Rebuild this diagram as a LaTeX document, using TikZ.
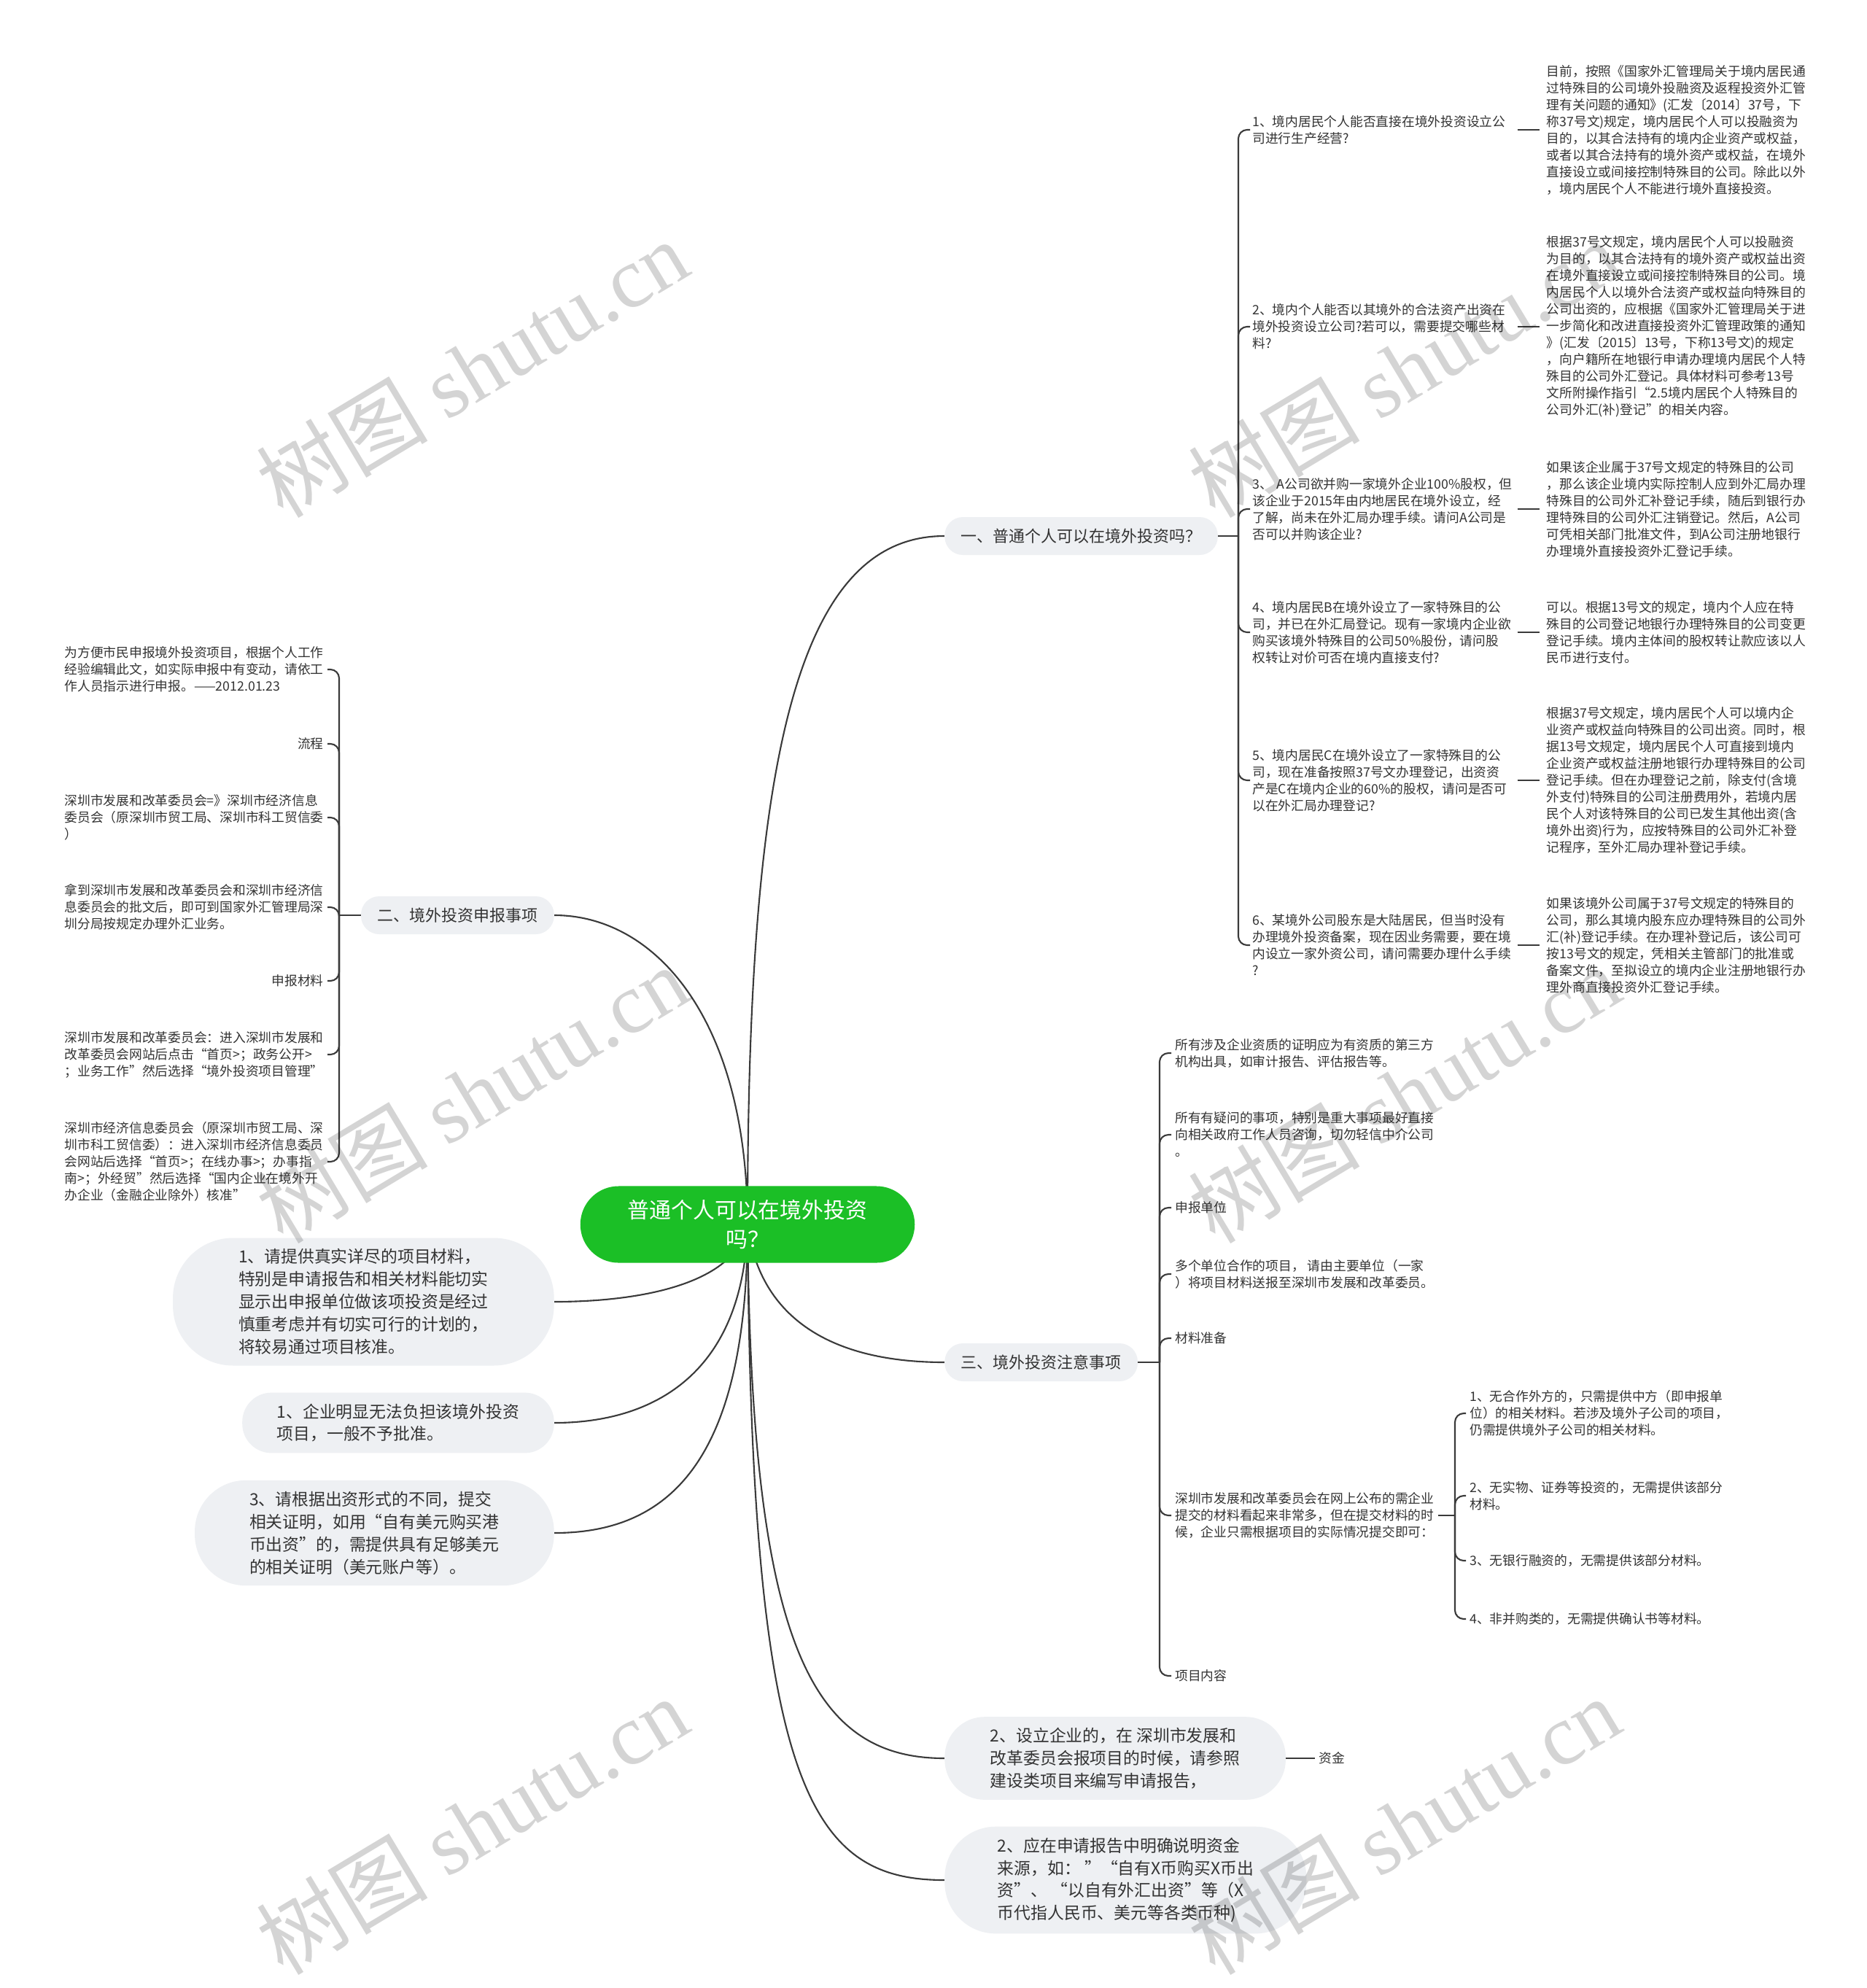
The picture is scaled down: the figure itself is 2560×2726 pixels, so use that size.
\documentclass[tikz,border=0pt]{standalone}
\usepackage{fontspec}
\setmainfont{Noto Sans CJK SC}
\newfontfamily\wmfont{Liberation Serif}
\usetikzlibrary{positioning, backgrounds}
\definecolor{MapText}{HTML}{333333}
\definecolor{MapLine}{HTML}{3A3A3A}
\definecolor{MapGray}{HTML}{EEF0F3}
\definecolor{MapGreen}{HTML}{1BBF26}

\begin{document}
\begin{tikzpicture}[x=0.02cm, y=-0.02cm,
                rootbox/.style={fill=MapGreen, text=white, rounded corners=1.05cm, inner xsep=1.3cm, inner ysep=0.38cm, align=center, font=\fontsize{17}{22.5}\selectfont},
                topicbox/.style={fill=MapGray, text=MapText, rounded corners=0.5cm, minimum height=1.04cm, inner xsep=0.45cm, font=\fontsize{12.5}{15}\selectfont},
                bubblebox/.style={fill=MapGray, text=MapText, align=left, inner ysep=0.3cm, font=\fontsize{13}{17.6}\selectfont},
                notebox/.style={text=MapText, align=left, inner xsep=0.1cm, inner ysep=0.06cm, font=\fontsize{10.1}{13.1}\selectfont},
                askbox/.style={notebox, text width=7.2cm, inner xsep=0.06cm},
                conn/.style={draw=MapLine, line width=1.2pt},
                bracelink/.style={conn, rounded corners=0.24cm},
                wmark/.style={text=black, text opacity=0.17, rotate=31, font=\fontsize{67}{67}\selectfont}]
    \useasboundingbox (0,0) rectangle (2560,2726);

    \node[rootbox] (root) at (1025,1679) {普通个人可以在境外投资\\吗？};

    \node[topicbox, anchor=west] (n1) at (1295,735) {一、普通个人可以在境外投资吗？};
    \node[topicbox, anchor=east] (n2) at (760,1255) {二、境外投资申报事项};
    \node[topicbox, anchor=west] (n3) at (1295,1868) {三、境外投资注意事项};

    \node[bubblebox, anchor=east, inner xsep=1.8cm, rounded corners=1.65cm] (b1) at (760,1785) {1、请提供真实详尽的项目材料，\\特别是申请报告和相关材料能切实\\显示出申报单位做该项投资是经过\\慎重考虑并有切实可行的计划的，\\将较易通过项目核准。};
    \node[bubblebox, anchor=east, inner xsep=0.95cm, rounded corners=0.8cm] (b2) at (760,1951) {1、企业明显无法负担该境外投资\\项目，一般不予批准。};
    \node[bubblebox, anchor=east, inner xsep=1.5cm, rounded corners=1.4cm] (b3) at (760,2102) {3、请根据出资形式的不同，提交\\相关证明，如用“自有美元购买港\\币出资”的，需提供具有足够美元\\的相关证明（美元账户等）。};
    \node[bubblebox, anchor=west, inner xsep=1.25cm, rounded corners=1.1cm] (bb1) at (1295,2411) {2、设立企业的，在 深圳市发展和\\改革委员会报项目的时候，请参照\\建设类项目来编写申请报告，};
    \node[bubblebox, anchor=west, inner xsep=1.45cm, rounded corners=1.4cm] (bb2) at (1295,2578) {2、应在申请报告中明确说明资金\\来源，如： ”“自有X币购买X币出\\资”、 “以自有外汇出资”等（X\\币代指人民币、美元等各类币种)};
    \node[notebox, right=0.8cm of bb1] (fund) {资金};

    \node[askbox, anchor=west] (q1) at (1714,178) {1、境内居民个人能否直接在境外投资设立公\\司进行生产经营?};
    \node[askbox, anchor=west] (q2) at (1714,448) {2、境内个人能否以其境外的合法资产出资在\\境外投资设立公司?若可以，需要提交哪些材\\料?};
    \node[askbox, anchor=west] (q3) at (1714,698) {3、 A公司欲并购一家境外企业100\%股权，但\\该企业于2015年由内地居民在境外设立，经\\了解，尚未在外汇局办理手续。请问A公司是\\否可以并购该企业?};
    \node[askbox, anchor=west] (q4) at (1714,867) {4、境内居民B在境外设立了一家特殊目的公\\司，并已在外汇局登记。现有一家境内企业欲\\购买该境外特殊目的公司50\%股份，请问股\\权转让对价可否在境内直接支付?};
    \node[askbox, anchor=west] (q5) at (1714,1070) {5、境内居民C在境外设立了一家特殊目的公\\司，现在准备按照37号文办理登记，出资资\\产是C在境内企业的60\%的股权，请问是否可\\以在外汇局办理登记?};
    \node[askbox, anchor=west] (q6) at (1714,1296) {6、某境外公司股东是大陆居民，但当时没有\\办理境外投资备案，现在因业务需要，要在境\\内设立一家外资公司，请问需要办理什么手续\\?};

    \node[notebox, inner xsep=0.2cm, right=0.6cm of q1] (a1) {目前，按照《国家外汇管理局关于境内居民通\\过特殊目的公司境外投融资及返程投资外汇管\\理有关问题的通知》(汇发〔2014〕37号，下\\称37号文)规定，境内居民个人可以投融资为\\目的，以其合法持有的境内企业资产或权益，\\或者以其合法持有的境外资产或权益，在境外\\直接设立或间接控制特殊目的公司。除此以外\\，境内居民个人不能进行境外直接投资。};
    \node[notebox, inner xsep=0.2cm, right=0.6cm of q2] (a2) {根据37号文规定，境内居民个人可以投融资\\为目的，以其合法持有的境外资产或权益出资\\在境外直接设立或间接控制特殊目的公司。境\\内居民个人以境外合法资产或权益向特殊目的\\公司出资的，应根据《国家外汇管理局关于进\\一步简化和改进直接投资外汇管理政策的通知\\》(汇发〔2015〕13号，下称13号文)的规定\\，向户籍所在地银行申请办理境内居民个人特\\殊目的公司外汇登记。具体材料可参考13号\\文所附操作指引“2.5境内居民个人特殊目的\\公司外汇(补)登记”的相关内容。};
    \node[notebox, inner xsep=0.2cm, right=0.6cm of q3] (a3) {如果该企业属于37号文规定的特殊目的公司\\，那么该企业境内实际控制人应到外汇局办理\\特殊目的公司外汇补登记手续，随后到银行办\\理特殊目的公司外汇注销登记。然后，A公司\\可凭相关部门批准文件，到A公司注册地银行\\办理境外直接投资外汇登记手续。};
    \node[notebox, inner xsep=0.2cm, right=0.6cm of q4] (a4) {可以。根据13号文的规定，境内个人应在特\\殊目的公司登记地银行办理特殊目的公司变更\\登记手续。境内主体间的股权转让款应该以人\\民币进行支付。};
    \node[notebox, inner xsep=0.2cm, right=0.6cm of q5] (a5) {根据37号文规定，境内居民个人可以境内企\\业资产或权益向特殊目的公司出资。同时，根\\据13号文规定，境内居民个人可直接到境内\\企业资产或权益注册地银行办理特殊目的公司\\登记手续。但在办理登记之前，除支付(含境\\外支付)特殊目的公司注册费用外，若境内居\\民个人对该特殊目的公司已发生其他出资(含\\境外出资)行为，应按特殊目的公司外汇补登\\记程序，至外汇局办理补登记手续。};
    \node[notebox, inner xsep=0.2cm, right=0.6cm of q6] (a6) {如果该境外公司属于37号文规定的特殊目的\\公司，那么其境内股东应办理特殊目的公司外\\汇(补)登记手续。在办理补登记后，该公司可\\按13号文的规定，凭相关主管部门的批准或\\备案文件，至拟设立的境内企业注册地银行办\\理外商直接投资外汇登记手续。};

    \node[notebox, anchor=east] (c1) at (449,918) {为方便市民申报境外投资项目，根据个人工作\\经验编辑此文，如实际申报中有变动，请依工\\作人员指示进行申报。——2012.01.23};
    \node[notebox, anchor=east] (c2) at (449,1020) {流程};
    \node[notebox, anchor=east] (c3) at (449,1121) {深圳市发展和改革委员会=》深圳市经济信息\\委员会（原深圳市贸工局、深圳市科工贸信委\\）};
    \node[notebox, anchor=east] (c4) at (449,1244) {拿到深圳市发展和改革委员会和深圳市经济信\\息委员会的批文后，即可到国家外汇管理局深\\圳分局按规定办理外汇业务。};
    \node[notebox, anchor=east] (c5) at (449,1345) {申报材料};
    \node[notebox, anchor=east] (c6) at (449,1446) {深圳市发展和改革委员会：进入深圳市发展和\\改革委员会网站后点击“首页>；政务公开>\\；业务工作”然后选择“境外投资项目管理”};
    \node[notebox, anchor=east] (c7) at (449,1593) {深圳市经济信息委员会（原深圳市贸工局、深\\圳市科工贸信委）：进入深圳市经济信息委员\\会网站后选择“首页>；在线办事>；办事指\\南>；外经贸”然后选择“国内企业在境外开\\办企业（金融企业除外）核准”};

    \node[notebox, anchor=west] (d1) at (1606,1444) {所有涉及企业资质的证明应为有资质的第三方\\机构出具，如审计报告、评估报告等。};
    \node[notebox, anchor=west] (d2) at (1606,1556) {所有有疑问的事项，特别是重大事项最好直接\\向相关政府工作人员咨询，切勿轻信中介公司\\。};
    \node[notebox, anchor=west] (d3) at (1606,1656) {申报单位};
    \node[notebox, anchor=west] (d4) at (1606,1747) {多个单位合作的项目， 请由主要单位（一家\\）将项目材料送报至深圳市发展和改革委员。};
    \node[notebox, anchor=west] (d5) at (1606,1835) {材料准备};
    \node[notebox, anchor=west] (d6) at (1606,2078) {深圳市发展和改革委员会在网上公布的需企业\\提交的材料看起来非常多，但在提交材料的时\\候，企业只需根据项目的实际情况提交即可：};
    \node[notebox, anchor=west] (d7) at (1606,2298) {项目内容};

    \node[notebox, anchor=west] (m1) at (2010,1938) {1、无合作外方的，只需提供中方（即申报单\\位）的相关材料。若涉及境外子公司的项目，\\仍需提供境外子公司的相关材料。};
    \node[notebox, anchor=west] (m2) at (2010,2051) {2、无实物、证券等投资的，无需提供该部分\\材料。};
    \node[notebox, anchor=west] (m3) at (2010,2140) {3、无银行融资的，无需提供该部分材料。};
    \node[notebox, anchor=west] (m4) at (2010,2220) {4、非并购类的，无需提供确认书等材料。};

    \coordinate (j1) at (1698,735);
    \coordinate (j2) at (465,1255);
    \coordinate (j3) at (1590,1868);
    \coordinate (j6) at (1995,2078);

    \begin{scope}[on background layer]
        \fill[white] (0,0) rectangle (2560,2726);
        \draw[conn] (root.center) .. controls (1025,1050) and (1090,735) .. (n1.west);
        \draw[conn] (root.center) .. controls (1025,1400) and (900,1255) .. (n2.east);
        \draw[conn] (root.center) .. controls (1040,1800) and (1130,1868) .. (n3.west);
        \draw[conn] (root.center) .. controls (1010,1760) and (880,1785) .. (b1.east);
        \draw[conn] (root.center) .. controls (1020,1880) and (900,1951) .. (b2.east);
        \draw[conn] (root.center) .. controls (1025,2000) and (920,2102) .. (b3.east);
        \draw[conn] (root.center) .. controls (1030,2250) and (1110,2411) .. (bb1.west);
        \draw[conn] (root.center) .. controls (1030,2450) and (1110,2578) .. (bb2.west);
    \end{scope}

    \draw[conn] (bb1.east) -- (fund.west);
    \draw[conn] (n1.east) -- (j1);
    \foreach \k in {1,...,6}
        \draw[bracelink] (j1) |- (q\k.west);
    \foreach \k in {1,...,6}
        \draw[conn] (q\k.east) -- (a\k.west);
    \draw[conn] (n2.west) -- (j2);
    \foreach \k in {1,...,7}
        \draw[bracelink] (j2) |- (c\k.east);
    \draw[conn] (n3.east) -- (j3);
    \foreach \k in {1,...,7}
        \draw[bracelink] (j3) |- (d\k.west);
    \draw[conn] (d6.east) -- (j6);
    \foreach \k in {1,...,4}
        \draw[bracelink] (j6) |- (m\k.west);

    \node[wmark] (w1) at (647,505) {树图 {\wmfont shutu.cn}};
    \node[wmark] (w2) at (1925,505) {树图 {\wmfont shutu.cn}};
    \node[wmark] (w3) at (647,1500) {树图 {\wmfont shutu.cn}};
    \node[wmark] (w4) at (1925,1500) {树图 {\wmfont shutu.cn}};
    \node[wmark] (w5) at (647,2503) {树图 {\wmfont shutu.cn}};
    \node[wmark] (w6) at (1925,2503) {树图 {\wmfont shutu.cn}};
\end{tikzpicture}
\end{document}
